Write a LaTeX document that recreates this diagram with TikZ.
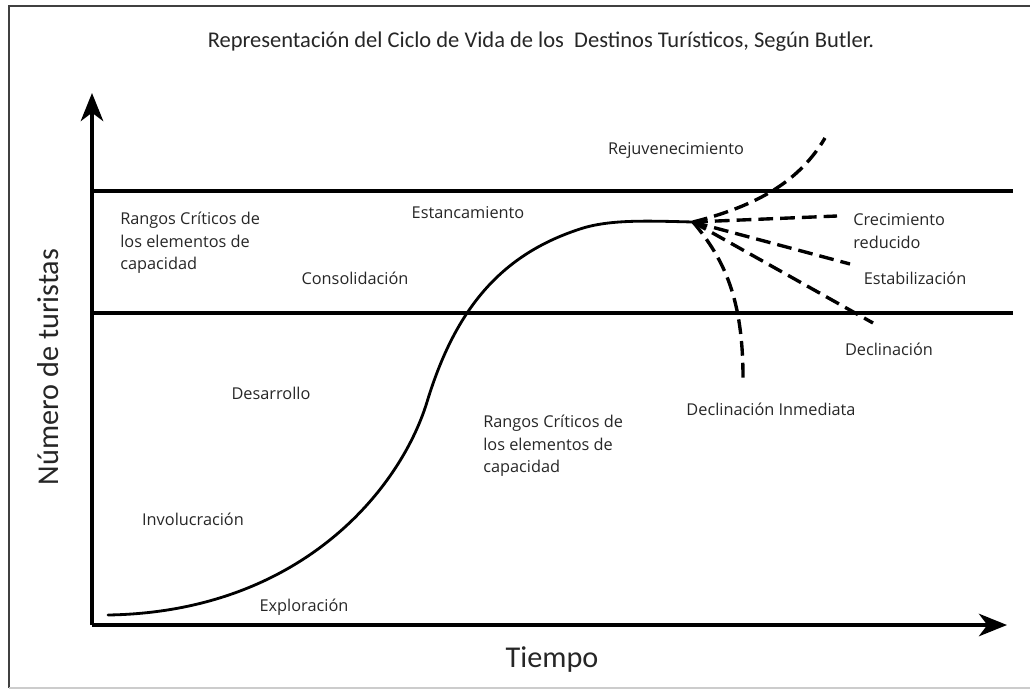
\documentclass[tikz,border=0pt]{standalone}
\usepackage{fontspec}
\setmainfont{Carlito}
\newfontfamily\labelfont{Open Sans}
\usetikzlibrary{arrows.meta, positioning, calc}

\begin{document}
\begin{tikzpicture}[
            x=0.025cm, y=-0.025cm,
            % Define styles
            frame/.style={draw=black!75, line width=1.4pt},
            axis/.style={line width=2.6pt, -{Stealth[length=20pt, width=16pt, inset=6pt]}},
            limit/.style={line width=2.6pt},
            curve/.style={line width=2pt, line cap=round},
            branch/.style={line width=2.4pt, dash pattern=on 10.5pt off 5pt},
            stage/.style={font=\labelfont\fontsize{11.6}{16}\selectfont, text=black!85, inner sep=0pt, align=left},
            axislabel/.style={font=\fontsize{21.5}{24}\selectfont, text=black!85, inner sep=0pt},
            title/.style={font=\fontsize{16}{19}\selectfont, text=black!85, inner sep=0pt}
        ]
        \useasboundingbox (0,0) rectangle (1030,690);

        % Frame
        \draw[frame] (1040,6) -- (9,6) -- (9,688);
        \draw[black!20, line width=1pt] (9,688) -- (1040,688);

        % Title
        \node[title] (titulo) at (541,42) {Representación del Ciclo de Vida de los\ \ Destinos Turísticos, Según Butler.};

        % Axes
        \coordinate (origen) at (92,625);
        \coordinate (ytop) at (92,93);
        \coordinate (xend) at (1007,625);
        \draw[axis] (origen) -- (ytop);
        \draw[axis] (origen) -- (xend);
        \node[axislabel] (tiempo) at (552,660) {Tiempo};
        \node[axislabel, rotate=90] (numero) at (48,367) {Número de turistas};

        % Critical range lines
        \draw[limit] (92,191) -- (1013,191);
        \draw[limit] (92,313) -- (1013,313);

        % Life cycle curve
        \coordinate (inicio) at (108,615);
        \coordinate (fan) at (693,222);
        \draw[curve] (inicio) .. controls (300,612) and (400,490) .. (427,402)
            .. controls (455,310) and (500,255) .. (580,229)
            .. controls (610,219) and (650,221) .. (fan);

        % Possible futures
        \draw[branch] (fan) .. controls (760,205) and (800,180) .. (825,138);
        \draw[branch] (fan) -- (837,216);
        \draw[branch] (fan) -- (850,264);
        \draw[branch] (fan) -- (873,323);
        \draw[branch] (fan) .. controls (725,260) and (743,300) .. (743,378);

        % Stage labels
        \node[stage] (rejuv) at (676,150) {Rejuvenecimiento};
        \node[stage] (estanc) at (468,213) {Estancamiento};
        \node[stage] (consol) at (355,278) {Consolidación};
        \node[stage] (desarr) at (271,393) {Desarrollo};
        \node[stage] (involuc) at (193,519) {Involucración};
        \node[stage] (explor) at (304,607) {Exploración};
        \node[stage, anchor=west] (rangos1) at (120,243) {Rangos Críticos de\\los elementos de\\capacidad};
        \node[stage, anchor=west] (rangos2) at (483,446) {Rangos Críticos de\\los elementos de\\capacidad};
        \node[stage, anchor=west] (crec) at (853,231) {Crecimiento\\reducido};
        \node[stage] (estab) at (915,278) {Estabilización};
        \node[stage] (decl) at (889,349) {Declinación};
        \node[stage] (declinm) at (771,409) {Declinación Inmediata};

\end{tikzpicture}
\end{document}
